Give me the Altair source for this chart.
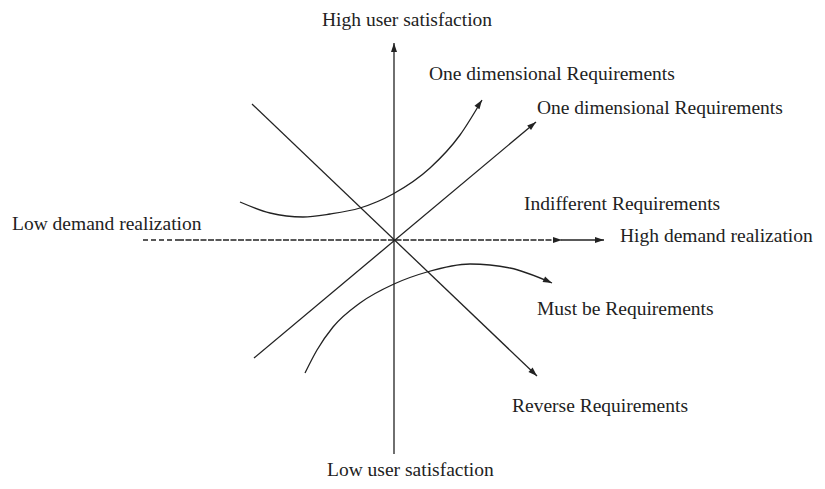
import altair as alt
import pandas as pd

# Diagram coordinates: origin at the axes crossing, 1 unit ~ 1 px, y upward
# Straight lines: (name, x0, y0, x1, y1)
straight_names = ["vertical_axis", "axis_solid", "one_dim_line", "reverse_line"]
straight_x0 = [0, 168, -140, -142]
straight_y0 = [-214, 0, -118, 136]
straight_x1 = [0, 210, 142, 143]
straight_y1 = [197, 0, 118, -136]

# Dashed parts of the horizontal axis
dash_wide_x = [-251, -216]
dash_fine_x = [-216, 168]

# Curves
curve_attr_x = [-154, -124, -91, -64, -34, -1, 36, 66, 88]
curve_attr_y = [38, 27, 23, 26, 32, 46, 72, 105, 140]
curve_must_x = [-89, -77, -61, -34, 0, 33, 76, 116, 158]
curve_must_y = [-133, -110, -87, -63, -44, -32, -24, -28, -43]

# Arrow heads: tip position and direction (degrees clockwise from up)
arrow_x = [0, 168, 210, 142, 143, 88, 158]
arrow_y = [197, 0, 0, 118, -136, 140, -43]
arrow_angle = [0, 90, 90, 50, 134, 34, 115]

# Labels
label_text = [
    "High user satisfaction",
    "One dimensional Requirements",
    "One dimensional Requirements",
    "Indifferent Requirements",
    "Low demand realization",
    "High demand realization",
    "Must be Requirements",
    "Reverse Requirements",
    "Low user satisfaction",
]
label_x = [-72, 35, 143, 130, -382, 226, 143, 118, -67]
label_y = [214, 160, 126, 30, 10, -2, -75, -172, -236]

INK = "#222222"
xs = alt.Scale(domain=[-386, 423], nice=False, zero=False)
ys = alt.Scale(domain=[-241, 232], nice=False, zero=False)
noax = None

seg_df = pd.DataFrame({"name": straight_names, "x": straight_x0, "y": straight_y0,
                       "x2": straight_x1, "y2": straight_y1})
segs = alt.Chart(seg_df).mark_rule(color=INK, strokeWidth=1.3).encode(
    x=alt.X("x:Q", scale=xs, axis=noax),
    y=alt.Y("y:Q", scale=ys, axis=noax),
    x2="x2:Q",
    y2="y2:Q",
)

wide_df = pd.DataFrame({"x": [dash_wide_x[0]], "x2": [dash_wide_x[1]], "y": [0]})
wide = alt.Chart(wide_df).mark_rule(color=INK, strokeWidth=1.3, strokeDash=[5, 3]).encode(
    x=alt.X("x:Q", scale=xs, axis=noax), x2="x2:Q", y=alt.Y("y:Q", scale=ys, axis=noax)
)
fine_df = pd.DataFrame({"x": [dash_fine_x[0]], "x2": [dash_fine_x[1]], "y": [0]})
fine = alt.Chart(fine_df).mark_rule(color=INK, strokeWidth=1.4, strokeDash=[6, 1.5]).encode(
    x=alt.X("x:Q", scale=xs, axis=noax), x2="x2:Q", y=alt.Y("y:Q", scale=ys, axis=noax)
)

curve_df = pd.concat([
    pd.DataFrame({"curve": "attractive", "seq": range(len(curve_attr_x)),
                  "x": curve_attr_x, "y": curve_attr_y}),
    pd.DataFrame({"curve": "must", "seq": range(len(curve_must_x)),
                  "x": curve_must_x, "y": curve_must_y}),
])
curves = alt.Chart(curve_df).mark_line(color=INK, strokeWidth=1.3, interpolate="monotone").encode(
    x=alt.X("x:Q", scale=xs, axis=noax),
    y=alt.Y("y:Q", scale=ys, axis=noax),
    detail="curve:N",
    order="seq:Q",
)

arrow_df = pd.DataFrame({"x": arrow_x, "y": arrow_y, "angle": arrow_angle})
arrows = alt.Chart(arrow_df).mark_point(
    shape="M0,0L0.6,1.8L-0.6,1.8Z", filled=True, color=INK, opacity=1, size=100
).encode(
    x=alt.X("x:Q", scale=xs, axis=noax),
    y=alt.Y("y:Q", scale=ys, axis=noax),
    angle=alt.Angle("angle:Q", scale=None),
)

label_df = pd.DataFrame({"text": label_text, "x": label_x, "y": label_y})
labels = alt.Chart(label_df).mark_text(
    font="Liberation Serif", fontSize=19.5, color=INK, align="left", baseline="alphabetic"
).encode(
    x=alt.X("x:Q", scale=xs, axis=noax),
    y=alt.Y("y:Q", scale=ys, axis=noax),
    text="text:N",
)

chart = alt.layer(wide, fine, segs, curves, arrows, labels).properties(
    width=809, height=473, autosize="none", padding=0, background="white"
).configure_view(stroke=None)

chart.save("out.html", embed_options={"renderer": "svg", "actions": False})
